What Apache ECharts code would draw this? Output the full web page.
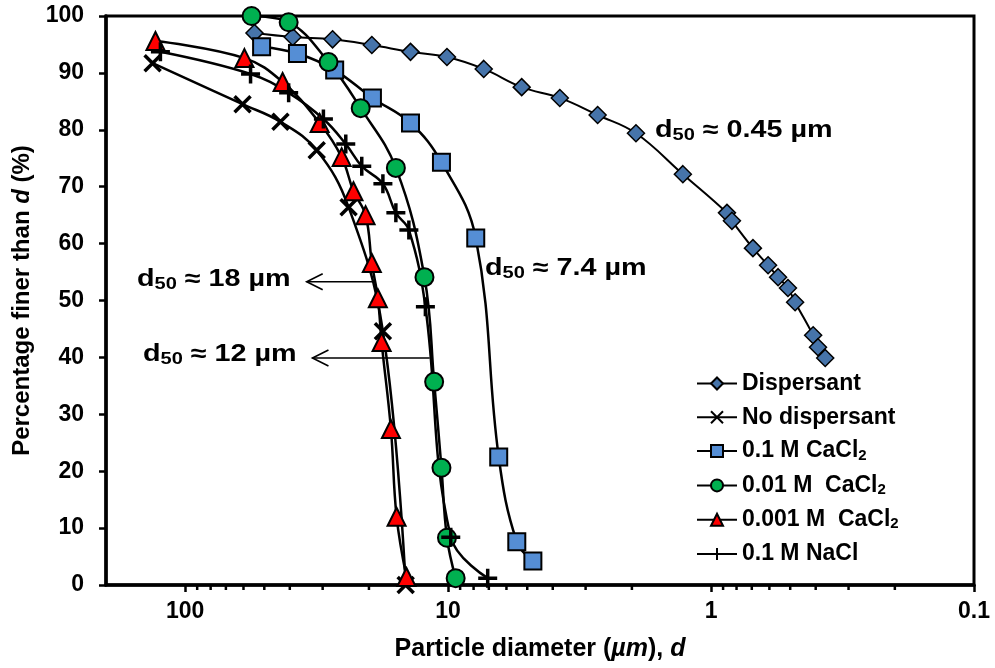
<!DOCTYPE html>
<html>
<head>
<meta charset="utf-8">
<script src="https://cdn.jsdelivr.net/npm/echarts@6/dist/echarts.min.js"></script>
<style>
  html, body { margin: 0; padding: 0; background: #fff; }
  #chart { width: 995px; height: 668px; }
</style>
</head>
<body>
<div id="chart"></div>
<script>
const FONT = '"Liberation Sans", Arial, Helvetica, sans-serif';

// Series names (the trailing "2" of CaCl2 is drawn as a subscript)
const seriesNames = ['Dispersant', 'No dispersant', '0.1 M CaCl2', '0.01 M  CaCl2', '0.001 M  CaCl2', '0.1 M NaCl'];

// Particle diameter d (µm) and percentage finer than d (%)
const dispersantD = [54.5, 39.0, 27.5, 19.5, 13.9, 10.1, 7.32, 5.25, 3.76, 2.70, 1.93, 1.28, 0.870, 0.833, 0.693, 0.607, 0.556, 0.510, 0.479, 0.409, 0.392, 0.368];
const dispersantP = [97.0, 96.3, 95.9, 94.9, 93.7, 92.8, 90.7, 87.5, 85.6, 82.6, 79.4, 72.2, 65.4, 64.0, 59.2, 56.2, 54.1, 52.2, 49.7, 43.9, 41.8, 39.9];

const noDispD = [133, 60.5, 43.4, 31.6, 23.9, 17.7, 14.5];
const noDispP = [91.7, 84.5, 81.4, 76.4, 66.4, 44.6, 0];

const cacl2_01D = [51.2, 37.4, 27.0, 19.4, 13.9, 10.6, 7.85, 6.42, 5.48, 4.76];
const cacl2_01P = [94.6, 93.4, 90.5, 85.6, 81.2, 74.3, 61.0, 22.5, 7.6, 4.2];

const cacl2_001D = [55.9, 40.4, 28.5, 21.5, 15.8, 12.3, 11.3, 10.6, 10.1, 9.36];
const cacl2_001P = [100, 98.9, 91.9, 83.8, 73.3, 54.1, 35.7, 20.6, 8.3, 1.2];

const cacl2_0001D = [129.7, 59.5, 42.6, 30.8, 25.4, 22.9, 20.6, 19.5, 18.5, 17.9, 16.5, 15.7, 14.4];
const cacl2_0001P = [95.6, 92.6, 88.4, 81.2, 75.2, 69.2, 65.0, 56.6, 50.4, 42.7, 27.4, 12.0, 1.4];

const naclD = [124.2, 56.4, 40.4, 29.8, 24.5, 21.3, 17.7, 15.8, 14.1, 12.2, 9.77, 7.07];
const naclP = [93.7, 89.8, 86.5, 81.9, 77.5, 73.6, 70.5, 65.4, 62.4, 48.9, 8.4, 1.2];

// Minor ticks of the logarithmic diameter axis
const xMinorTicks = [0.2, 0.3, 0.4, 0.5, 0.6, 0.7, 0.8, 0.9, 2, 3, 4, 5, 6, 7, 8, 9, 20, 30, 40, 50, 60, 70, 80, 90];

// d50 pointer arrows: [start d, arrow tip d, percentage]
const d50Arrows = [[19.4, 34.5, 53.3], [11.75, 32.8, 39.9]];

// d50 annotation values (µm)
const d50Values = ['0.45', '7.4', '18', '12'];

const pairs = (d, p) => d.map((v, i) => [v, p[i]]);

const X_PATH = 'path://M0,0L10,10M10,0L0,10';
const PLUS_PATH = 'path://M5,0L5,10M0,5L10,5';

function lineSeries(name, data, symbol, size, fill, opts) {
  opts = opts || {};
  return {
    type: 'line',
    name: name,
    data: data,
    smooth: 0.4,
    symbol: symbol,
    symbolSize: size,
    showAllSymbol: true,
    clip: false,
    lineStyle: { color: '#000', width: opts.lineWidth || 2.5 },
    itemStyle: {
      color: fill,
      borderColor: '#000',
      borderWidth: opts.borderWidth || 1.5
    },
    emphasis: { disabled: true },
    z: 2
  };
}

const chart = echarts.init(document.getElementById('chart'), null, { renderer: 'canvas' });

const boldText = { fontFamily: FONT, fontWeight: 'bold', color: '#000' };

function d50Text(value) {
  return '{d|d}{s|50}{t| ≈ ' + value + ' µm}';
}
const d50Rich = {
  d: { fontFamily: FONT, fontWeight: 'bold', fontSize: 23, lineHeight: 26, fill: '#000' },
  s: { fontFamily: FONT, fontWeight: 'bold', fontSize: 16, lineHeight: 9, verticalAlign: 'bottom', fill: '#000' },
  t: { fontFamily: FONT, fontWeight: 'bold', fontSize: 23, lineHeight: 26, fill: '#000' }
};
function annot(x, y, value) {
  return {
    type: 'text', x: x, y: y, scaleX: 1.25, z: 10,
    style: { text: d50Text(value), rich: d50Rich, align: 'left', verticalAlign: 'middle', fill: '#000' }
  };
}

const option = {
  backgroundColor: '#fff',
  animation: false,
  grid: {
    left: 106, right: 21, top: 16, bottom: 83,
    show: true, borderColor: '#000', borderWidth: 3,
    containLabel: false, outerBoundsMode: 'none'
  },
  xAxis: {
    type: 'log', logBase: 10, min: 0.1, max: 200, inverse: true,
    name: '{a|Particle diameter (}{i|µm}{a|), }{i|d}',
    nameLocation: 'middle', nameGap: 52,
    nameTextStyle: {
      rich: {
        a: Object.assign({ fontSize: 25 }, boldText),
        i: Object.assign({ fontSize: 25, fontStyle: 'italic' }, boldText)
      }
    },
    axisLine: { show: true, lineStyle: { color: '#000', width: 3.5 } },
    axisTick: { show: true, inside: false, length: 7, lineStyle: { color: '#000', width: 2.5 } },
    axisLabel: Object.assign({ fontSize: 23, margin: 15, showMaxLabel: false }, boldText),
    splitLine: { show: false },
    minorTick: { show: false },
    minorSplitLine: { show: false }
  },
  yAxis: {
    type: 'value', min: 0, max: 100, interval: 10,
    name: '{a|Percentage finer than }{i|d}{a| (%)}',
    nameLocation: 'middle', nameRotate: 90, nameGap: 71,
    nameTextStyle: {
      rich: {
        a: Object.assign({ fontSize: 24 }, boldText),
        i: Object.assign({ fontSize: 24, fontStyle: 'italic' }, boldText)
      }
    },
    axisLine: { show: true, lineStyle: { color: '#000', width: 3.5 } },
    axisTick: { show: true, inside: false, length: 7, lineStyle: { color: '#000', width: 2.5 } },
    axisLabel: Object.assign({ fontSize: 23, margin: 22 }, boldText),
    splitLine: { show: false }
  },
  legend: {
    data: seriesNames,
    orient: 'vertical',
    left: 696, top: 372, padding: 0,
    itemWidth: 40, itemHeight: 15, itemGap: 10.8,
    selectedMode: false,
    formatter: n => n.endsWith('CaCl2') ? '{t|' + n.slice(0, -1) + '}{s|2}' : '{t|' + n + '}',
    textStyle: {
      color: '#000',
      rich: {
        t: { fontFamily: FONT, fontWeight: 'bold', fontSize: 23, lineHeight: 24, color: '#000' },
        s: { fontFamily: FONT, fontWeight: 'bold', fontSize: 15, lineHeight: 10, verticalAlign: 'bottom', color: '#000' }
      }
    }
  },
  graphic: [
    annot(655, 131, d50Values[0]),
    annot(485, 269, d50Values[1]),
    annot(137, 280, d50Values[2]),
    annot(143, 355, d50Values[3])
  ],
  series: [
    lineSeries(seriesNames[0], pairs(dispersantD, dispersantP), 'diamond', 17, '#4674AA', { lineWidth: 2 }),
    lineSeries(seriesNames[1], pairs(noDispD, noDispP), X_PATH, 16, 'rgba(0,0,0,0)', { borderWidth: 3.5 }),
    lineSeries(seriesNames[2], pairs(cacl2_01D, cacl2_01P), 'rect', 17, '#558ED5', { borderWidth: 2 }),
    lineSeries(seriesNames[3], pairs(cacl2_001D, cacl2_001P), 'circle', 18, '#00B050', { borderWidth: 2 }),
    lineSeries(seriesNames[4], pairs(cacl2_0001D, cacl2_0001P), 'triangle', 18, '#FF0000', { borderWidth: 2 }),
    lineSeries(seriesNames[5], pairs(naclD, naclP), PLUS_PATH, 19, 'rgba(0,0,0,0)', { borderWidth: 3.5 }),
    {
      type: 'custom',
      name: 'minorTicks',
      silent: true,
      clip: false,
      z: 1,
      data: xMinorTicks.map(v => [v, 0]),
      renderItem: (params, api) => {
        const p = api.coord([api.value(0), api.value(1)]);
        return {
          type: 'line',
          shape: { x1: p[0], y1: p[1], x2: p[0], y2: p[1] + 5 },
          style: { stroke: '#000', lineWidth: 2.5 }
        };
      }
    },
    {
      type: 'custom',
      name: 'd50Arrows',
      silent: true,
      clip: false,
      z: 3,
      encode: { x: [0, 1], y: 2 },
      data: d50Arrows,
      renderItem: (params, api) => {
        const a = api.coord([api.value(0), api.value(2)]);
        const b = api.coord([api.value(1), api.value(2)]);
        return {
          type: 'group',
          children: [
            { type: 'line', shape: { x1: a[0], y1: a[1], x2: b[0], y2: b[1] },
              style: { stroke: '#000', lineWidth: 1.6 } },
            { type: 'polyline', shape: { points: [[b[0] + 16, b[1] - 8], [b[0], b[1]], [b[0] + 16, b[1] + 8]] },
              style: { stroke: '#000', lineWidth: 1.6, fill: null } }
          ]
        };
      }
    }
  ]
};

chart.setOption(option);
</script>
</body>
</html>
